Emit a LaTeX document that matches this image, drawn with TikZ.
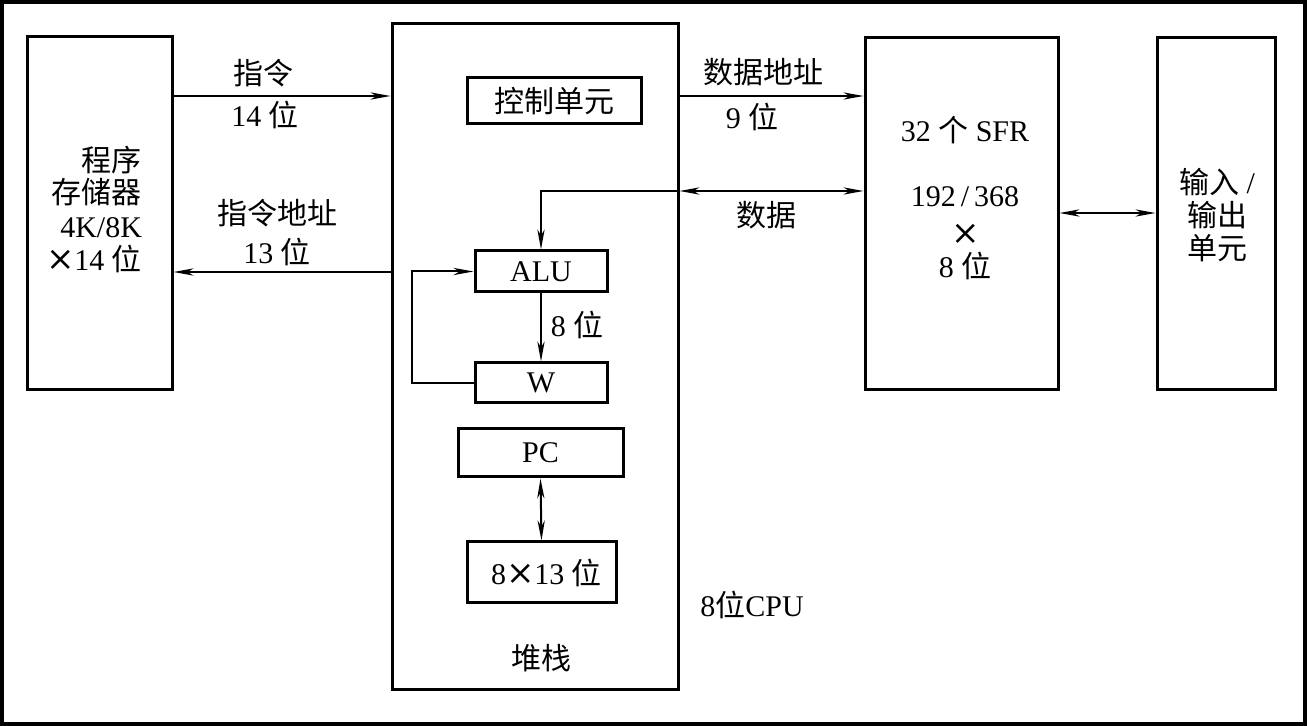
\documentclass[tikz,border=0pt]{standalone}
\usepackage{fontspec}
\setmainfont{Liberation Serif}
\newfontfamily\cjk{Noto Sans CJK SC}
\newfontfamily\symf{DejaVu Serif}
\usetikzlibrary{arrows.meta}
\newcommand\zh[1]{{\cjk #1}}
\newcommand\tms{{\symf\fontsize{17}{16.5}\selectfont ×}}
\begin{document}
\begin{tikzpicture}[x=0.5pt,y=-0.5pt,
  font=\fontsize{15}{16.5}\selectfont,
  box/.style={draw, line width=1.5pt, inner sep=0pt},
  lbl/.style={inner sep=0pt},
  conn/.style={line width=1pt, -{Stealth[length=10pt,width=3.6pt,inset=3pt]}},
  dconn/.style={line width=1pt, {Stealth[length=10pt,width=3.6pt,inset=3pt]}-{Stealth[length=10pt,width=3.6pt,inset=3pt]}}]
\useasboundingbox (0,0) rectangle (1307,726);
\draw[line width=2pt] (2,2) rectangle (1305,724);
% boxes
\node[box, minimum width=72.5pt, minimum height=176.5pt] (pm) at (99.5,213.5) {};
\node[box, minimum width=143pt, minimum height=333pt] (cpu) at (535,357) {};
\node[box, minimum width=87pt, minimum height=23pt] (ctrl) at (554,101) {\zh{控制单元}};
\node[box, minimum width=96.5pt, minimum height=176pt] (sfr) at (961.5,214) {};
\node[box, minimum width=59pt, minimum height=176pt] (io) at (1216,214) {};
\node[box, minimum width=66pt, minimum height=20.5pt] (alu) at (541,271.5) {ALU};
\node[box, minimum width=66pt, minimum height=20pt] (w) at (541,383) {W};
\node[box, minimum width=82.5pt, minimum height=24pt] (pc) at (540.5,453) {PC};
\node[box, minimum width=74.5pt, minimum height=30.5pt] (stk) at (541.5,572.5) {\hspace{5pt}8\tms13 \zh{位}};
% texts
\node[lbl, align=right] (pmtxt) at (94,209) {\zh{程序}\\\zh{存储器}\\4K/8K\\\tms14 \zh{位}};
\node[lbl] (t1) at (263,73) {\zh{指令}};
\node[lbl] (t2) at (265,115) {14 \zh{位}};
\node[lbl] (t3) at (277,213) {\zh{指令地址}};
\node[lbl] (t4) at (277,252) {13 \zh{位}};
\node[lbl] (t5) at (763,72) {\zh{数据地址}};
\node[lbl] (t6) at (752,117) {9 \zh{位}};
\node[lbl] (t7) at (766,215) {\zh{数据}};
\node[lbl] (s1) at (965,130) {32 \zh{个} SFR};
\node[lbl] (s2) at (965,197) {192\,/\,368};
\node[lbl] (s3) at (966,234) {\tms};
\node[lbl] (s4) at (965,266) {8 \zh{位}};
\node[lbl, align=center] (iotxt) at (1217,215) {\zh{输入} /\\\zh{输出}\\\zh{单元}};
\node[lbl] (t8) at (577,325) {8 \zh{位}};
\node[lbl] (t9) at (541,658) {\zh{堆栈}};
\node[lbl] (t10) at (752,605) {8\zh{位}CPU};
% helper coordinates
\coordinate (y96) at (0,96);
\coordinate (y272) at (0,272);
\coordinate (y191) at (0,191);
\coordinate (y213) at (0,213);
% connectors
\draw[conn] (pm.east |- y96) -- (cpu.west |- y96);
\draw[conn] (cpu.west |- y272) -- (pm.east |- y272);
\draw[conn] (cpu.east |- y96) -- (sfr.west |- y96);
\draw[dconn] (cpu.east |- y191) -- (sfr.west |- y191);
\draw[conn] (cpu.east |- y191) -| (alu.north);
\draw[dconn] (sfr.east |- y213) -- (io.west |- y213);
\draw[conn] (alu.south) -- (w.north);
\draw[conn] (w.west) -- ++(-62,0) |- (alu.west);
\draw[dconn] (pc.south) -- (stk.north);
\end{tikzpicture}
\end{document}
